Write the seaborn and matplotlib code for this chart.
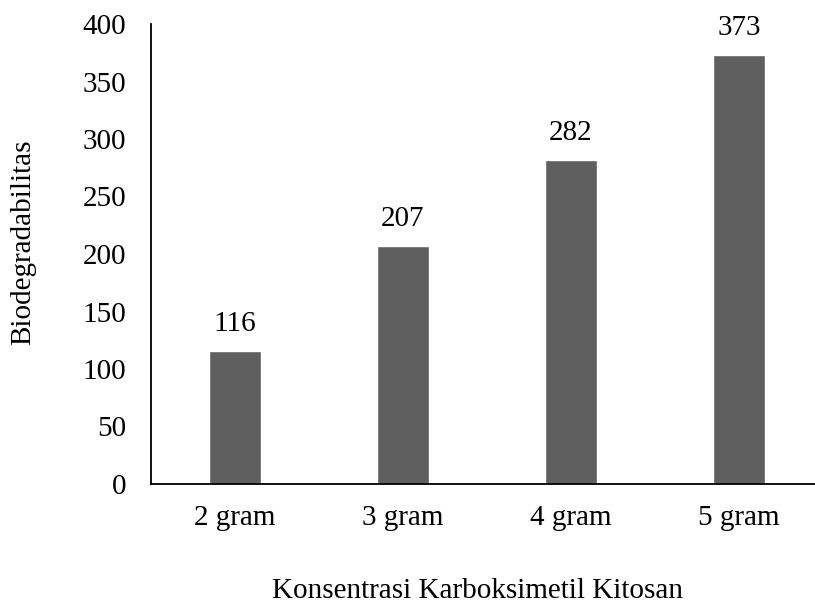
import matplotlib
matplotlib.use("Agg")
import matplotlib.pyplot as plt
import seaborn as sns
import pandas as pd

categories = ["2 gram", "3 gram", "4 gram", "5 gram"]
values = [116, 207, 282, 373]
y_ticks = [0, 50, 100, 150, 200, 250, 300, 350, 400]

sns.set_theme(style="white")
plt.rcParams["font.family"] = ["Liberation Serif", "DejaVu Serif"]

df = pd.DataFrame({"konsentrasi": categories, "nilai": values})

FS = 21
fig = plt.figure(figsize=(8.15, 6.06), dpi=100)
W, H = 815, 606
left, right, top, bottom = 151, 823, 24, 484
ax = fig.add_axes([left / W, 1 - bottom / H, (right - left) / W, (bottom - top) / H])

sns.barplot(data=df, x="konsentrasi", y="nilai", color="#5f5f5f", saturation=1,
            width=0.315, ax=ax)

ax.set_xlim(-0.5, 3.5)
ax.set_ylim(0, 400)
ax.set_yticks(y_ticks)
ax.tick_params(axis="both", length=0, labelsize=FS, colors="black")
ax.tick_params(axis="y", pad=18)
ax.tick_params(axis="x", pad=15)

for s in ["top", "right"]:
    ax.spines[s].set_visible(False)
for s in ["left", "bottom"]:
    ax.spines[s].set_color("black")
    ax.spines[s].set_linewidth(1.3)

for i, v in enumerate(values):
    ax.annotate(f"{v}", (i, v), xytext=(0, 10), textcoords="offset points",
                ha="center", va="bottom", fontsize=FS, color="black")

ax.set_xlabel("")
ax.set_ylabel("")
fig.text(478 / W, 1 - 604 / H, "Konsentrasi Karboksimetil Kitosan", fontsize=FS,
         color="black", ha="center", va="bottom")
fig.text(23 / W, 1 - 242 / H, "Biodegradabilitas", fontsize=FS, color="black",
         ha="center", va="center", rotation=90)

fig.savefig("out.png", dpi=100)
